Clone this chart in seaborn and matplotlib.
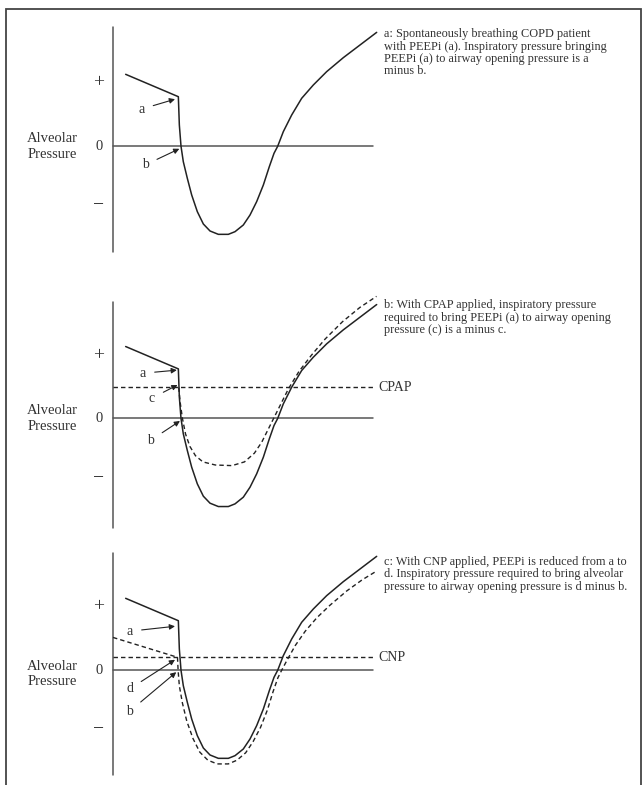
import numpy as np
import pandas as pd
import seaborn as sns
import matplotlib.pyplot as plt
from matplotlib.patches import Rectangle

# --- Valeurs (t = temps arbitraire, p = pression, "+" = 1) ---
solid_t = [0.204, 1.054, 1.070, 1.097, 1.134, 1.199, 1.269, 1.360, 1.457, 1.565,
           1.699, 1.860, 1.968, 2.102, 2.210, 2.317, 2.425, 2.521, 2.597, 2.656,
           2.747, 2.882, 3.043, 3.231, 3.446, 3.715, 3.984, 4.253]
solid_p = [1.161, 0.800, 0.344, 0.000, -0.248, -0.517, -0.785, -1.054, -1.253, -1.366,
           -1.420, -1.420, -1.377, -1.269, -1.108, -0.893, -0.624, -0.329, -0.113, 0.000,
           0.236, 0.505, 0.774, 0.989, 1.204, 1.430, 1.634, 1.838]

cpap_t = [1.060, 1.085, 1.120, 1.170, 1.240, 1.330, 1.450, 1.650, 1.920, 2.120,
          2.280, 2.400, 2.500, 2.590, 2.700, 2.830, 3.000, 3.200, 3.420, 3.700, 3.980, 4.250]
cpap_p = [0.500, 0.250, 0.000, -0.250, -0.450, -0.600, -0.700, -0.750, -0.760, -0.700,
          -0.560, -0.380, -0.180, 0.000, 0.220, 0.480, 0.760, 1.020, 1.280, 1.560, 1.790, 1.970]

cnp_t = [0.000, 1.040, 1.050, 1.070, 1.120, 1.190, 1.290, 1.400, 1.530, 1.680,
         1.860, 2.000, 2.140, 2.260, 2.380, 2.490, 2.580, 2.660, 2.720, 2.800,
         2.940, 3.100, 3.290, 3.500, 3.770, 4.020, 4.250]
cnp_p = [0.530, 0.210, 0.000, -0.250, -0.530, -0.820, -1.100, -1.320, -1.450, -1.510,
         -1.510, -1.450, -1.330, -1.150, -0.920, -0.640, -0.350, -0.120, 0.000, 0.150,
         0.400, 0.630, 0.850, 1.050, 1.280, 1.460, 1.600]

cpap_level = 0.50
cnp_level = 0.21
zero_end = 4.19

tick_labels = ["+", "0", "\u2212"]
tick_values = [1.02, 0.0, -0.96]
tick_sizes = [14, 10.5, 14]

descriptions = [
    "a: Spontaneously breathing COPD patient\nwith PEEPi (a). Inspiratory pressure bringing\n"
    "PEEPi (a) to airway opening pressure is a\nminus b.",
    "b: With CPAP applied, inspiratory pressure\nrequired to bring PEEPi (a) to airway opening\n"
    "pressure (c) is a minus c.",
    "c: With CNP applied, PEEPi is reduced from a to\nd. Inspiratory pressure required to bring alveolar\n"
    "pressure to airway opening pressure is d minus b.",
]

# --- Style ---
sns.set_theme(style="white")
plt.rcParams['font.family'] = ['Liberation Serif', 'DejaVu Serif']

W, H = 642, 785
PX = 62.0  # pixels par unité
AX_X = 113
fig = plt.figure(figsize=(W / 100, H / 100), dpi=100)
fig.patch.set_facecolor("white")

bands = [(0, 262, 146.3), (262, 523, 418.5), (523, 785, 670.3)]
axis_span = [(1.92, -1.70), (1.88, -1.76), (1.89, -1.69)]
desc_top = [1.90, 1.92, 1.84]
label_y = [0.0, 0.0, -0.06]

line_col = "#222222"
axis_col = "#555555"
txt_col = "#333333"
dash = (0, (3.2, 2.2))

arrow_kw = dict(arrowstyle="-|>", color=line_col, lw=0.8, mutation_scale=8,
                shrinkA=4, shrinkB=0)

axes = []
for (top, bot, zero), (ya, yb) in zip(bands, axis_span):
    ax = fig.add_axes([0, 1 - bot / H, 1, (bot - top) / H])
    ax.set_xlim(-AX_X / PX, (W - AX_X) / PX)
    ax.set_ylim((zero - bot) / PX, (zero - top) / PX)
    ax.axis("off")
    # axe vertical + ligne zéro
    ax.plot([0, 0], [yb, ya], color=axis_col, lw=1.1, clip_on=False)
    ax.plot([0, zero_end], [0, 0], color=axis_col, lw=1.1)
    for lab, v, fs in zip(tick_labels, tick_values, tick_sizes):
        ax.text(-0.23, v, lab, ha="center", va="center", fontsize=fs, color=txt_col)
    axes.append(ax)

for ax, desc, top_v, ly in zip(axes, descriptions, desc_top, label_y):
    ax.text(-0.98, ly, "Alveolar\nPressure", ha="center", va="center", fontsize=10.5,
            color=txt_col, linespacing=1.25)
    ax.text(4.37, top_v, desc, ha="left", va="top", fontsize=8.8, color=txt_col,
            linespacing=1.03)
    sns.lineplot(x=solid_t, y=solid_p, ax=ax, color=line_col, lw=1.1,
                 sort=False, estimator=None)

lab_kw = dict(ha="center", va="center", fontsize=10, color=txt_col, arrowprops=arrow_kw)

# --- Panneau a ---
ax = axes[0]
ax.annotate("a", xy=(1.0, 0.76), xytext=(0.46, 0.60), **lab_kw)
ax.annotate("b", xy=(1.07, -0.04), xytext=(0.52, -0.30), **lab_kw)

# --- Panneau b : CPAP ---
ax = axes[1]
ax.plot([0, zero_end], [cpap_level, cpap_level], color=line_col, lw=1.0, linestyle=dash)
ax.text(4.28, cpap_level, "CPAP", ha="left", va="center", fontsize=10, color=txt_col)
sns.lineplot(x=cpap_t, y=cpap_p, ax=ax, color=line_col, lw=1.0, linestyle=dash,
             sort=False, estimator=None)
ax.annotate("a", xy=(1.03, 0.78), xytext=(0.48, 0.73), **lab_kw)
ax.annotate("c", xy=(1.04, 0.54), xytext=(0.63, 0.33), **lab_kw)
ax.annotate("b", xy=(1.08, -0.04), xytext=(0.61, -0.35), **lab_kw)

# --- Panneau c : CNP ---
ax = axes[2]
ax.plot([0, zero_end], [cnp_level, cnp_level], color=line_col, lw=1.0, linestyle=dash)
ax.text(4.28, cnp_level, "CNP", ha="left", va="center", fontsize=10, color=txt_col)
sns.lineplot(x=cnp_t, y=cnp_p, ax=ax, color=line_col, lw=1.0, linestyle=dash,
             sort=False, estimator=None)
ax.annotate("a", xy=(1.0, 0.71), xytext=(0.27, 0.63), **lab_kw)
ax.annotate("d", xy=(1.0, 0.17), xytext=(0.27, -0.30), **lab_kw)
ax.annotate("b", xy=(1.02, -0.03), xytext=(0.27, -0.66), **lab_kw)

# --- Cadre ---
fig.patches.append(Rectangle((6 / W, -0.05), (640.5 - 6) / W, 1.05 - 9 / H,
                             transform=fig.transFigure, fill=False,
                             edgecolor="#444444", lw=1.3, zorder=10))

fig.savefig("out.png", dpi=100)
